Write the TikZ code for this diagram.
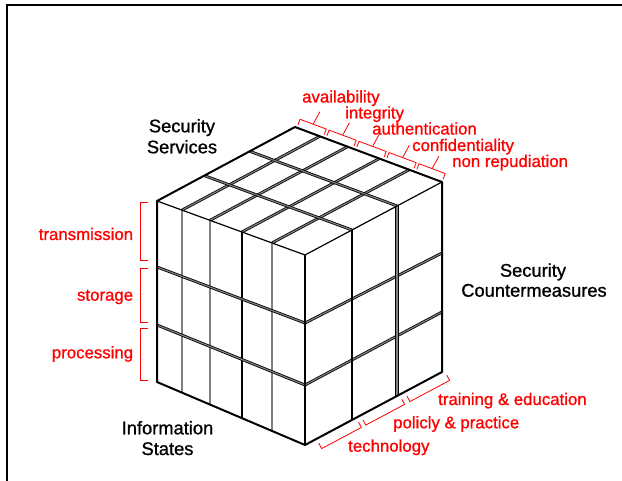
\documentclass[tikz,border=0pt]{standalone}
\usepackage{fontspec}
\setmainfont{Liberation Sans}
\newfontfamily\lblfont{Liberation Sans}[FakeBold=1]
\usetikzlibrary{calc}
\begin{document}
\begin{tikzpicture}[x=1pt,y=-1pt,
  edge/.style={line width=2pt, line join=round, line cap=round},
  seam/.style={line width=1.1pt},
  gap/.style={line width=0.8pt, double=black!50, double distance=1.2pt},
  widegap/.style={line width=0.8pt, double=black!50, double distance=1.8pt},
  brk/.style={red, line width=0.8pt},
  redlbl/.style={red, font=\lblfont\fontsize{16.8}{18}\selectfont, inner sep=0pt},
  blklbl/.style={font=\lblfont\fontsize{18.3}{21}\selectfont, inner sep=0pt, anchor=base},
]
\useasboundingbox (0,0) rectangle (622,481);
\fill[white] (0,0) rectangle (622,481);
% frame
\draw[line width=2pt] (7,483) -- (7,5) -- (624,5);

% cube corners
\coordinate (Lt) at (157,201);
\coordinate (Lb) at (157,382);
\coordinate (Ft) at (305,255);
\coordinate (Fb) at (305,445);
\coordinate (Rt) at (442,182);
\coordinate (Rb) at (442,372);
\coordinate (Bt) at (295,127);
% layer marks on the vertical edges
\coordinate (L1) at (157,267);
\coordinate (L2) at (157,325);
\coordinate (F1) at (305,323);
\coordinate (F2) at (305,385);
\coordinate (R1) at (442,253);
\coordinate (R2) at (442,312);

% top face seams
\foreach \u in {0.169,0.358,0.574,0.777}
  \draw[gap] ($(Lt)!\u!(Ft)$) -- ($(Bt)!\u!(Rt)$);
\foreach \v in {0.343,0.672}
  \draw[gap] ($(Lt)!\v!(Bt)$) -- ($(Ft)!\v!(Rt)$);

% left face seams
\foreach \u in {0.169,0.358,0.777}
  \draw[gap] ($(Lt)!\u!(Ft)$) -- ($(Lb)!\u!(Fb)$);
\draw[seam] ($(Lt)!0.574!(Ft)$) -- ($(Lb)!0.574!(Fb)$);
\draw[gap] (L1) -- (F1);
\draw[gap] (L2) -- (F2);

% right face seams
\draw[gap] (F1) -- (R1);
\draw[gap] (F2) -- (R2);
\draw[seam] ($(Ft)!0.343!(Rt)$) -- ($(Fb)!0.343!(Rb)$);
\draw[widegap] ($(Ft)!0.672!(Rt)$) -- ($(Fb)!0.672!(Rb)$);

% cube edges
\draw[seam, line width=1.2pt] (Lt) -- (Ft) -- (Rt);
\draw[seam, line width=1.3pt] (Ft) -- (Fb);
\draw[edge] (Lt) -- (Bt) -- (Rt) -- (Rb) -- (Fb) -- (Lb) -- cycle;

% brackets for the information states
\draw[brk] (148,202) -- (140,202) -- (140,260) -- (148,260);
\draw[brk] (148,268) -- (140,268) -- (140,322) -- (148,322);
\draw[brk] (148,328) -- (140,328) -- (140,380) -- (148,380);

% brackets for the security services
\begin{scope}[shift={(Bt)}, rotate=-20.5]
  \foreach \a/\b in {2/30,33/62,65/94,97/126,129/157}{
    \draw[brk] (\a,-3) -- (\a,-9) -- (\b,-9) -- (\b,-3);
    \draw[brk] ({(\a+\b)/2},-9) -- ({(\a+\b)/2+2},-23);
  }
\end{scope}

% brackets for the countermeasures
\begin{scope}[shift={(Fb)}, rotate=28.05]
  \foreach \a/\b in {13/58,63/107,113/158}
    \draw[brk] (\a,5) -- (\a,11) -- (\b,11) -- (\b,5);
\end{scope}

% service labels
\node[redlbl, anchor=base west] (avail) at (302,102.5) {availability};
\node[redlbl, anchor=base west] (integ) at (345,118.5) {integrity};
\node[redlbl, anchor=base west] (authn) at (372,134.5) {authentication};
\node[redlbl, anchor=base west] (confi) at (412,151) {confidentiality};
\node[redlbl, anchor=base west] (nonrep) at (452,167) {non repudiation};

% state labels
\node[redlbl, anchor=base east] (trans) at (133.3,240) {transmission};
\node[redlbl, anchor=base east] (stor) at (133.3,300.7) {storage};
\node[redlbl, anchor=base east] (proc) at (133.3,358.3) {processing};

% countermeasure labels
\node[redlbl, anchor=base west] (train) at (438,405) {training \& education};
\node[redlbl, anchor=base west] (policy) at (393,428.3) {policly \& practice};
\node[redlbl, anchor=base west] (tech) at (348,451.7) {technology};

% axis titles
\node[blklbl] (svcA) at (182,132.3) {Security};
\node[blklbl] (svcB) at (182,153.3) {Services};
\node[blklbl] (cmA) at (533,276.7) {Security};
\node[blklbl] (cmB) at (534,296.7) {Countermeasures};
\node[blklbl] (isA) at (167.5,434.3) {Information};
\node[blklbl] (isB) at (167.5,455) {States};
\end{tikzpicture}
\end{document}
